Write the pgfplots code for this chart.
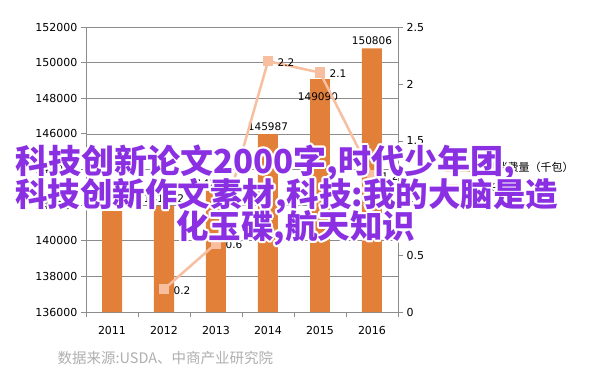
\documentclass[border=0pt]{standalone}
\usepackage{fontspec}
\setmainfont{DejaVu Sans}
\newfontfamily\cjk{Noto Sans CJK SC}
\usepackage{pgfplots}
\pgfplotsset{compat=1.18}
\definecolor{barorange}{RGB}{226,128,58}
\definecolor{lineorange}{RGB}{247,190,160}
\definecolor{axgray}{RGB}{140,140,140}
\definecolor{overlay}{RGB}{138,48,226}
\newcommand{\outlined}[4]{%
  \foreach \a in {0,30,...,330} {\node[anchor=west,inner sep=0pt,text=white,font=\cjk\bfseries\fontsize{#4}{#4}\selectfont] at ([shift={(\a:2pt)}]#1pt,#2pt) {#3};}
  \node[anchor=west,inner sep=0pt,text=overlay,font=\cjk\bfseries\fontsize{#4}{#4}\selectfont] at (#1pt,#2pt) {#3};}
\begin{document}
\begin{tikzpicture}
\useasboundingbox[fill=white] (0pt,0pt) rectangle (602pt,384pt);
\begin{axis}[
  at={(86pt,72pt)}, anchor=south west, scale only axis,
  width=312pt, height=285pt,
  xmin=-0.5, xmax=5.5, ymin=136000, ymax=152000,
  ytick={136000,138000,...,152000},
  xtick={0,...,5}, xticklabels={2011,2012,2013,2014,2015,2016},
  minor xtick={-0.5,0.5,...,5.5},
  major x tick style={draw=none},
  minor x tick style={draw=axgray, line width=0.8pt},
  minor tick length=5pt, major tick length=5pt,
  tick align=outside,
  axis x line*=bottom, axis y line*=left,
  axis line style={draw=axgray, line width=0.8pt},
  y tick style={draw=axgray, line width=0.8pt},
  ymajorgrids, grid style={draw=axgray, line width=0.6pt},
  scaled y ticks=false,
  /pgf/number format/assume math mode=true,
  /pgf/number format/fixed, /pgf/number format/precision=0,
  /pgf/number format/1000 sep={},
  yticklabel style={font=\fontsize{11}{13}\selectfont},
  xticklabel style={font=\fontsize{11}{13}\selectfont, yshift=-6pt},
  legend style={at={(rel axis cs:1.135,0.47)}, anchor=west, draw=none, fill=none, font=\cjk\fontsize{11}{13}\selectfont, row sep=6pt},
  legend cell align=left,
  clip=false,
]
\addplot[ybar, bar width=20pt, fill=barorange, draw=none,
  nodes near coords, nodes near coords style={font=\fontsize{10.5}{12}\selectfont, text=black},
  legend image code/.code={\fill[barorange] (0pt,-4pt) rectangle (28pt,4pt);}]
  coordinates {(0,141669) (1,141952) (2,142796) (3,145987) (5,150806)};
\addlegendentry{咖啡消费量（千包）}
\addplot[ybar, bar width=20pt, fill=barorange, draw=none, forget plot,
  nodes near coords, every node near coord/.append style={font=\fontsize{10.5}{12}\selectfont, text=black, anchor=north, xshift=-2pt, yshift=-10pt}]
  coordinates {(4,149090)};
\addlegendimage{draw=lineorange, line width=2.5pt, mark=square*, mark size=3.5pt, mark options={fill=lineorange, draw=lineorange}}
\addlegendentry{增长率\%}
\end{axis}
\begin{axis}[
  at={(86pt,72pt)}, anchor=south west, scale only axis,
  width=312pt, height=285pt,
  xmin=-0.5, xmax=5.5, ymin=0, ymax=2.5,
  ytick={0,0.5,...,2.5},
  axis x line=none, axis y line*=right,
  axis line style={draw=axgray, line width=0.8pt},
  y tick style={draw=axgray, line width=0.8pt},
  tick align=outside, major tick length=5pt,
  /pgf/number format/assume math mode=true,
  /pgf/number format/fixed, /pgf/number format/precision=1,
  yticklabel style={font=\fontsize{11}{13}\selectfont},
  clip=false,
]
\addplot[draw=lineorange, line width=2.5pt, mark=square*, mark size=4pt, mark options={fill=lineorange, draw=lineorange},
  nodes near coords,
  every node near coord/.append style={anchor=west, xshift=5pt, yshift=-1pt, font=\fontsize{10.5}{12}\selectfont, text=black}]
  coordinates {(1,0.2) (2,0.6) (3,2.2) (4,2.1) (5,1.2)};
\end{axis}
\node[anchor=west, text={rgb,255:red,175;green,175;blue,175}, font=\cjk\fontsize{14.5}{15}\selectfont] at (54pt,26pt) {数据来源:USDA、中商产业研究院};
\outlined{15}{221}{科技创新论文2000字,时代少年团,}{33}
\outlined{15}{188}{科技创新作文素材,科技:我的大脑是造}{32.5}
\outlined{176}{156}{化玉碟,航天知识}{32.5}
\end{tikzpicture}
\end{document}
